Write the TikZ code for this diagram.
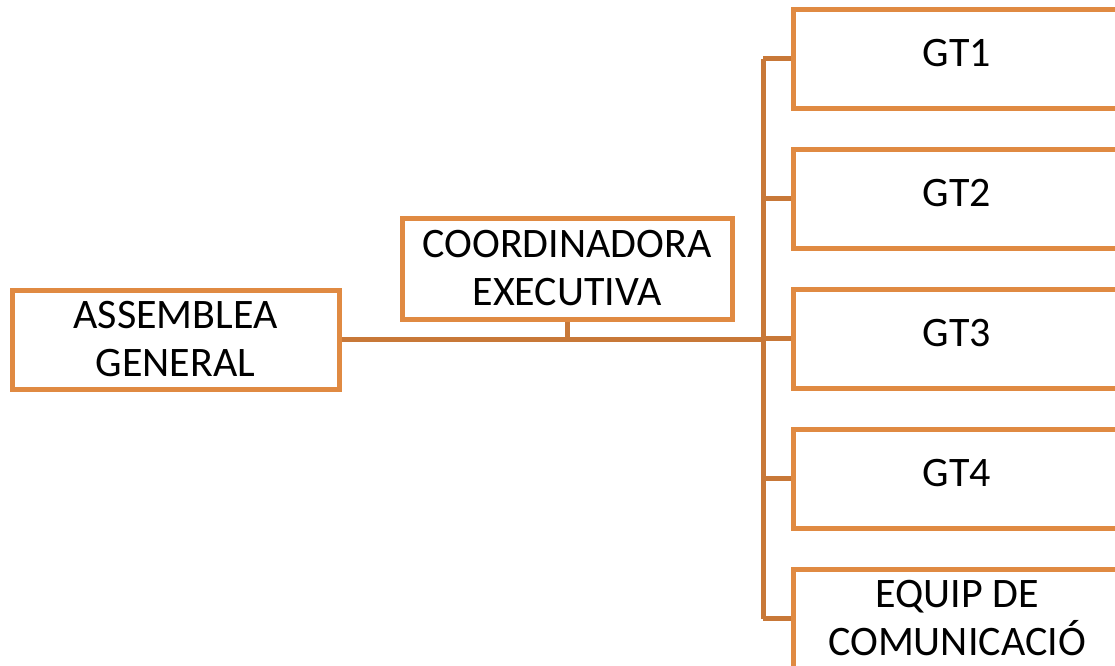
\documentclass[tikz,border=0pt]{standalone}
\usepackage{fontspec}
\setmainfont{Carlito}
\definecolor{boxc}{RGB}{224,138,66}
\definecolor{connc}{RGB}{200,120,56}
\begin{document}
\begin{tikzpicture}[x=1pt,y=-1pt,
  box/.style={draw=boxc, line width=5pt, fill=white, rectangle, minimum width=327pt, minimum height=99pt, inner sep=0pt, align=center, font=\fontsize{42}{48}\selectfont},
  single/.style={text depth=12pt},
  conn/.style={draw=connc, line width=5pt, line join=round}]
\useasboundingbox (0,0) rectangle (1115,665);
\clip (0,0) rectangle (1115,665);
% connectors
\coordinate (bt) at (763,58.5);
\coordinate (trunk) at (763,339);
\draw[conn] (339,339) -- (trunk);
\draw[conn] (567,319) -- (567,339);
\draw[conn] (bt) -- (763,618.5);
% boxes
\node[box] (ag) at (175.5,339.5) {ASSEMBLEA\\GENERAL};
\node[box, minimum width=330pt, minimum height=101pt] (ce) at (567,268.5) {COORDINADORA\\EXECUTIVA};
\node[box, single] (gt1) at (957,58.5) {GT1};
\node[box, single] (gt2) at (957,198.5) {GT2};
\node[box, single] (gt3) at (957,338.5) {GT3};
\node[box, single] (gt4) at (957,478.5) {GT4};
\node[box] (eq) at (957,618.5) {EQUIP DE\\COMUNICACIÓ};
\foreach \n in {gt1,gt2,gt3,gt4,eq} \draw[conn] (\n.west) -- (\n.west -| bt);
\end{tikzpicture}
\end{document}
